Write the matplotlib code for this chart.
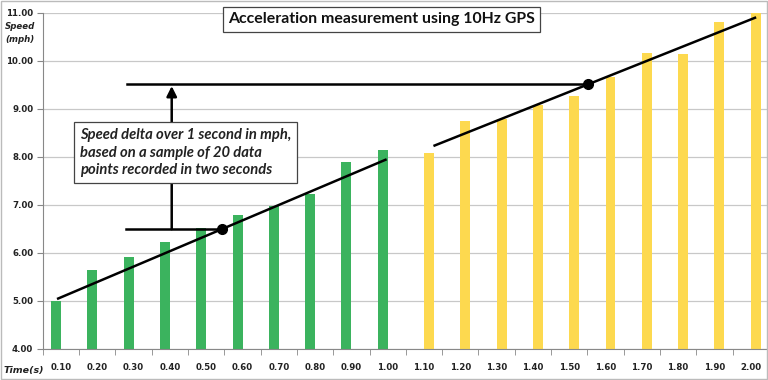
import numpy as np
import matplotlib.pyplot as plt
from matplotlib.patches import Rectangle

# data
times = ['0.10', '0.20', '0.30', '0.40', '0.50', '0.60', '0.70', '0.80', '0.90', '1.00',
         '1.10', '1.20', '1.30', '1.40', '1.50', '1.60', '1.70', '1.80', '1.90', '2.00']
speed_first = [5.00, 5.65, 5.91, 6.23, 6.51, 6.79, 6.97, 7.22, 7.88, 8.13]
speed_second = [8.07, 8.75, 8.79, 9.08, 9.27, 9.67, 10.17, 10.15, 10.81, 11.00]

# hand drawn trend lines (category index, mph)
trend1_x = [-0.11, 8.97]
trend1_y = [5.035, 7.946]
trend2_x = [10.26, 19.15]
trend2_y = [8.223, 10.904]
marker_x = [4.43, 14.53]

title = 'Acceleration measurement using 10Hz GPS'
note = ('Speed delta over 1 second in mph,\n'
        'based on a sample of 20 data\n'
        'points recorded in two seconds')

green = '#3BB35E'
yellow = '#FDD94F'

fig = plt.figure(figsize=(7.68, 3.8), dpi=100)
ax = fig.add_axes([42.85 / 768, 31.3 / 380, 726 / 768, 336 / 380])

x = np.arange(len(times))
n1 = len(speed_first)
bw = 0.275
ax.bar(x[:n1] - bw / 2, speed_first, width=bw, color=green, zorder=2)
ax.bar(x[n1:] + bw / 2, speed_second, width=bw, color=yellow, zorder=2)

ax.set_xlim(-0.5, len(times) - 0.5)
ax.set_ylim(4, 11)
ax.set_yticks(np.arange(4, 12, 1))
ax.set_yticklabels([f'{v:.2f}' for v in np.arange(4, 12, 1)])
ax.set_xticks(x)
ax.set_xticklabels(times)
ax.set_xticks(np.arange(len(times) + 1) - 0.5, minor=True)
ax.tick_params(axis='x', which='major', length=0, pad=10)
ax.tick_params(axis='x', which='minor', length=4, color='#888888')
ax.tick_params(axis='y', length=4, color='#888888', pad=3)
for lab in ax.get_xticklabels() + ax.get_yticklabels():
    lab.set_fontsize(6.2)
    lab.set_fontweight('bold')
    lab.set_color('#222222')

ax.grid(axis='y', color='#c8c8c8', lw=0.9, zorder=0)
for s in ['top', 'right']:
    ax.spines[s].set_visible(False)
for s in ['left', 'bottom']:
    ax.spines[s].set_color('#888888')
    ax.spines[s].set_zorder(3)

# trend lines and markers
ax.plot(trend1_x, trend1_y, color='black', lw=1.8, zorder=4, solid_capstyle='butt')
ax.plot(trend2_x, trend2_y, color='black', lw=1.8, zorder=4, solid_capstyle='butt')
y_low = np.interp(marker_x[0], trend1_x, trend1_y)
y_high = np.interp(marker_x[1], trend2_x, trend2_y)
ax.plot(marker_x, [y_low, y_high], 'o', color='black', ms=7, zorder=5)

arrow_x = 3.05
ax.plot([1.78, marker_x[0]], [y_low, y_low], color='black', lw=1.8, zorder=4)
ax.plot([1.81, marker_x[1]], [y_high, y_high], color='black', lw=1.8, zorder=4)
ax.annotate('', xy=(arrow_x, y_high - 0.04), xytext=(arrow_x, y_low),
            arrowprops=dict(arrowstyle='-|>,head_length=0.6,head_width=0.3',
                            color='black', lw=1.8, shrinkA=0, shrinkB=0),
            zorder=4)

ax.text(0.52, 8.08, note, ha='left', va='center', fontsize=10.6,
        family='Lato', fontweight='bold', fontstyle='italic', color='#222222',
        linespacing=1.32, zorder=6,
        bbox=dict(boxstyle='square,pad=0.4', fc='white', ec='#444444', lw=0.9))

fig.text(381.5 / 768, 1 - 19.5 / 380, title, ha='center', va='center',
         fontsize=11.4, family='Lato', fontweight='bold', color='#111111',
         bbox=dict(boxstyle='square,pad=0.32', fc='white', ec='#444444', lw=0.9))

fig.text(20 / 768, 1 - 33 / 380, 'Speed\n(mph)', ha='center', va='center',
         fontsize=6.2, fontweight='bold', fontstyle='italic', color='#222222',
         linespacing=1.5)
fig.text(24 / 768, 1 - 370 / 380, 'Time(s)', ha='center', va='center',
         fontsize=6.8, fontweight='bold', fontstyle='italic', color='#222222')

fig.patches.append(Rectangle((0.001, 0.003), 0.998, 0.994, transform=fig.transFigure,
                             fill=False, ec='#bbbbbb', lw=1))

fig.savefig('out.png', dpi=100)
